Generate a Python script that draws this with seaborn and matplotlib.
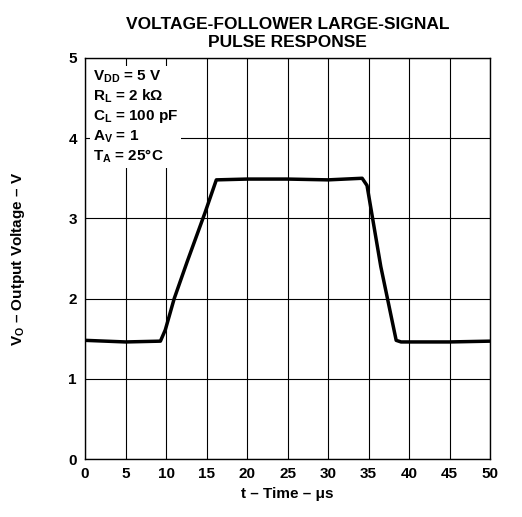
import matplotlib
matplotlib.use("Agg")
import matplotlib.pyplot as plt
import seaborn as sns

# curve
time_us = [0, 5, 9.3, 9.9, 11.0, 12.6, 14.8, 16.2, 20, 25, 30, 34.2, 34.8, 36.5, 38.4, 39, 45, 50]
vout = [1.48, 1.46, 1.47, 1.61, 2.0, 2.46, 3.07, 3.48, 3.49, 3.49, 3.48, 3.50, 3.41, 2.4, 1.48, 1.46, 1.46, 1.47]

sns.set_style("white")
plt.rcParams["font.family"] = ["Liberation Sans", "DejaVu Sans"]
plt.rcParams["mathtext.fontset"] = "custom"
plt.rcParams["mathtext.rm"] = "Liberation Sans:bold"
plt.rcParams["mathtext.it"] = "Liberation Sans:bold"
plt.rcParams["mathtext.bf"] = "Liberation Sans:bold"
for k in ["text.color", "axes.labelcolor", "xtick.color", "ytick.color"]:
    plt.rcParams[k] = "black"

fig = plt.figure(figsize=(5.22, 5.17), dpi=100)
ax = fig.add_axes([0.163, 0.112, 0.776, 0.776])

sns.lineplot(x=time_us, y=vout, ax=ax, color="black", linewidth=2.5, sort=False)

ax.set_xlim(0, 50)
ax.set_ylim(0, 5)
ax.set_xticks(range(0, 51, 5))
ax.set_yticks(range(0, 6))
ax.grid(True, color="black", linewidth=0.8)
for s in ax.spines.values():
    s.set_color("black")
    s.set_linewidth(1)
ax.tick_params(labelsize=11, length=0, pad=6)
for lab in ax.get_xticklabels() + ax.get_yticklabels():
    lab.set_fontweight("bold")

ax.set_xlabel("t – Time – μs", fontsize=11, fontweight="bold")
ax.set_ylabel(r"V$_\mathrm{O}$ – Output Voltage – V", fontsize=11, fontweight="bold", labelpad=30)
ax.set_title("VOLTAGE-FOLLOWER LARGE-SIGNAL\nPULSE RESPONSE", fontsize=12.5, fontweight="bold", pad=8)

txt = (r"V$_\mathrm{DD}$ = 5 V" "\n" r"R$_\mathrm{L}$ = 2 kΩ" "\n" r"C$_\mathrm{L}$ = 100 pF" "\n"
       r"A$_\mathrm{V}$ = 1" "\n" r"T$_\mathrm{A}$ = 25°C")
ax.text(1.0, 4.87, txt, fontsize=11, fontweight="bold", va="top", ha="left", linespacing=1.25,
        bbox=dict(facecolor="white", edgecolor="none", pad=2))

fig.savefig("out.png", dpi=100)
